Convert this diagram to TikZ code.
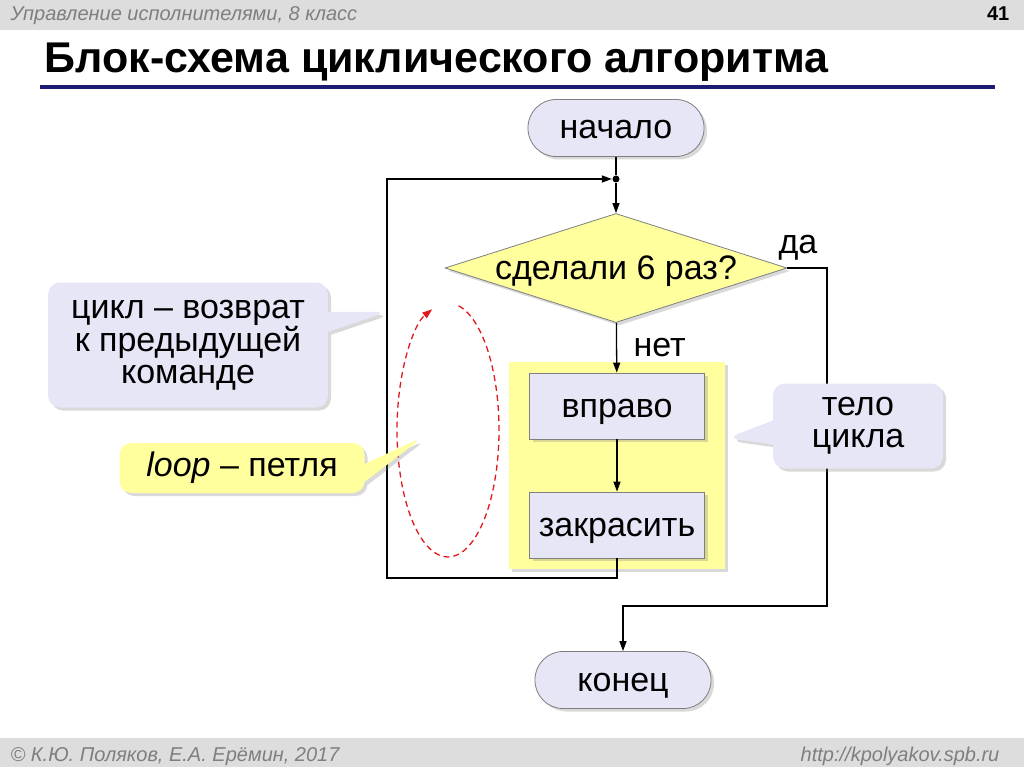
\documentclass[tikz,border=0pt]{standalone}
\usepackage{fontspec}
\setmainfont{Liberation Sans}
\usetikzlibrary{arrows.meta, positioning, shapes.geometric, shapes.callouts, fit, backgrounds, shadows}
\definecolor{clav}{HTML}{E6E6F7}
\definecolor{cyel}{HTML}{FFFF9E}
\definecolor{cgrey}{HTML}{7F7F7F}
\definecolor{cbar}{HTML}{DDDDDD}
\definecolor{cnavy}{HTML}{1C1C73}
\definecolor{cred}{HTML}{E0191E}
\tikzset{
  every picture/.style={x=1pt, y=-1pt, line width=1.3pt},
  big/.style={font=\fontsize{34}{32}\selectfont},
  oneline/.style={text height=24pt, text depth=2pt},
  shadow/.style={drop shadow={opacity=0.3, shadow xshift=3pt, shadow yshift=-3pt}},
  terminal/.style={big, oneline, draw=cgrey, line width=0.8pt, fill=clav, rounded corners=28pt, minimum width=176pt, minimum height=57pt, shadow},
  proc/.style={big, oneline, draw=cgrey, line width=0.8pt, fill=clav, minimum width=175pt, minimum height=66pt, shadow},
  decision/.style={big, oneline, diamond, draw=cgrey, line width=0.8pt, fill=cyel, aspect=3.14, inner sep=0pt, minimum width=342pt, minimum height=109pt, shadow},
  note/.style={big, rectangle callout, rounded corners=12pt, align=center, inner sep=0pt, shadow},
  arrow/.style={-{Triangle[length=10pt, width=7pt]}},
  bartext/.style={font=\itshape\fontsize{20}{24}\selectfont, text=cgrey},
}
\begin{document}
\begin{tikzpicture}
  \useasboundingbox (0,0) rectangle (1024,767);
  % header and footer
  \fill[cbar] (0,0) rectangle (1024,30);
  \fill[cbar] (0,738) rectangle (1024,767);
  \node[bartext, anchor=base west, inner sep=0pt] (course) at (10,21) {Управление исполнителями, 8 класс};
  \node[font=\bfseries\fontsize{20}{24}\selectfont, anchor=base east, inner sep=0pt] (page) at (1010,21) {41};
  \node[bartext, anchor=base west, inner sep=0pt] (authors) at (10,761) {© К.Ю. Поляков, Е.А. Ерёмин, 2017};
  \node[bartext, anchor=base east, inner sep=0pt] (site) at (1000,761) {http://kpolyakov.spb.ru};
  \node[font=\bfseries\fontsize{43}{48}\selectfont, anchor=base west, inner sep=0pt] (title) at (44,73) {Блок-схема циклического алгоритма};
  \draw[cnavy, line width=4pt] (40,87) -- (995,87);
  % flowchart
  \node[terminal] (start) at (616,128) {начало};
  \node[circle, fill, inner sep=0pt, minimum size=7pt] (dot) at (616,179) {};
  \node[decision] (cond) at (616,268) {сделали 6 раз?};
  \node[proc] (move) at (617,406) {вправо};
  \node[proc] (paint) at (617,525) {закрасить};
  \node[terminal] (end) at (623,680) {конец};
  \begin{scope}[on background layer]
    \node[fill=cyel, fit=(move)(paint), inner xsep=20pt, inner ysep=11pt, shadow] (body) {};
  \end{scope}
  \node[big, anchor=base west, inner sep=0pt] (yes) at (778,253) {да};
  \node[big, anchor=base west, inner sep=0pt] (no) at (633,356) {нет};
  \coordinate (loopcorner) at (387,578);
  \coordinate (yescorner) at (827,606);
  \draw (start) -- (dot);
  \draw[arrow] (dot) -- (cond);
  \draw[arrow] (cond) -- (move);
  \draw[arrow] (move) -- (paint);
  \draw[arrow] (paint.south) |- (loopcorner) |- (dot);
  \draw[arrow] (cond.east) -| (yescorner) -| (end.north);
  % red loop
  \draw[cred, dash pattern=on 6pt off 4pt, arrow] (448,430) ++(-78:51 and 127)
    arc[start angle=-78, end angle=252, x radius=51, y radius=127];
  % notes
  \coordinate (cycletip) at (387,312);
  \coordinate (looptip) at (423,437);
  \coordinate (bodytip) at (727,438);
  \node[note, fill=clav, minimum width=280pt, minimum height=125pt, callout absolute pointer=(cycletip), callout pointer width=20pt] (cyclenote) at (188,345) {цикл – возврат\\к предыдущей\\команде};
  \node[note, fill=cyel, minimum width=245pt, minimum height=50pt, callout absolute pointer=(looptip), callout pointer width=18pt] (loopnote) at (242,468) {\itshape loop\upshape{} – петля};
  \node[note, fill=clav, minimum width=170pt, minimum height=85pt, callout absolute pointer=(bodytip), callout pointer width=24pt] (bodynote) at (858,426) {тело\\цикла};
\end{tikzpicture}
\end{document}
